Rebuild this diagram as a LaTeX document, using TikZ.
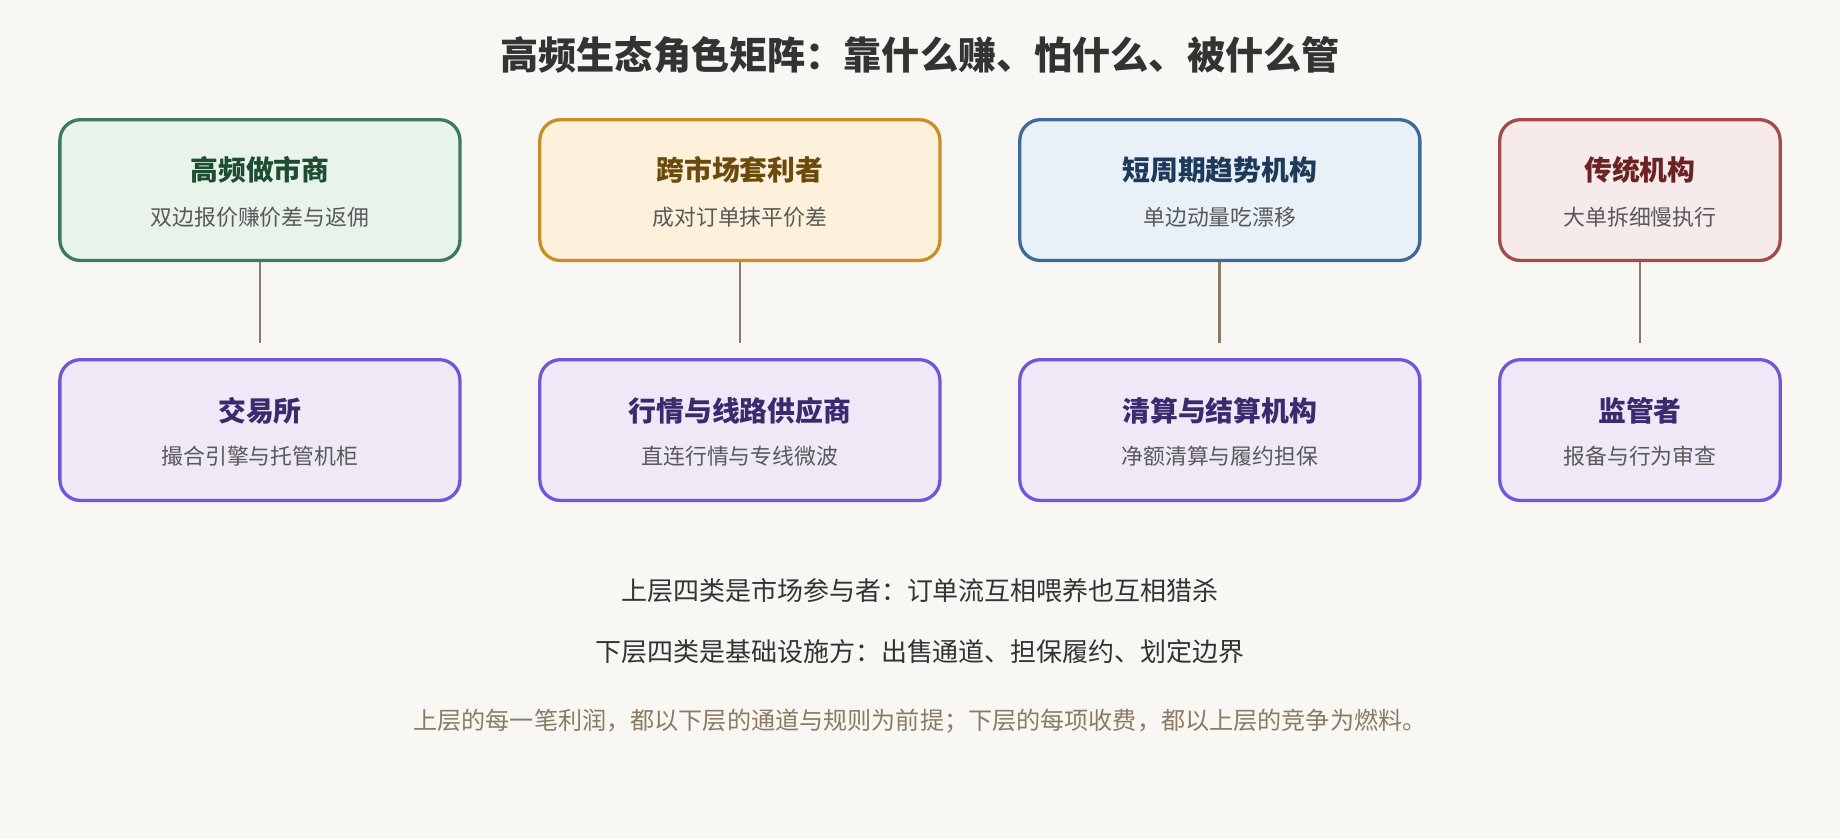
\documentclass[tikz,border=0pt]{standalone}
\usepackage{fontspec}
\setmainfont{Noto Sans CJK SC}
\usetikzlibrary{positioning}
\definecolor{bgc}{HTML}{F8F7F3}
\definecolor{grnd}{HTML}{3D7A5A}\definecolor{grnf}{HTML}{E8F3EA}\definecolor{grnt}{HTML}{1F4D33}
\definecolor{orgd}{HTML}{C98E2A}\definecolor{orgf}{HTML}{FDF1DC}\definecolor{orgt}{HTML}{6B4A0C}
\definecolor{blud}{HTML}{3D6A96}\definecolor{bluf}{HTML}{E8F0F8}\definecolor{blut}{HTML}{1E3A5A}
\definecolor{redd}{HTML}{A44A4A}\definecolor{redf}{HTML}{F6EAEA}\definecolor{redt}{HTML}{6B2222}
\definecolor{purd}{HTML}{7057D8}\definecolor{purf}{HTML}{EFE9F7}\definecolor{purt}{HTML}{3A2A6E}
\definecolor{linkc}{HTML}{8A7B62}
\begin{document}
\begin{tikzpicture}[x=0.02cm,y=-0.02cm,
    box/.style={rectangle, rounded corners=10pt, line width=1.6pt, minimum height=2.4cm},
    wide/.style={minimum width=6.82cm},
    narrow/.style={minimum width=4.78cm},
    head/.style={font=\fontsize{13.5}{15}\selectfont\bfseries},
    sub/.style={font=\fontsize{10.6}{12}\selectfont, text=black!65},
    link/.style={draw=linkc, line width=1.3pt}
]
    \fill[bgc] (0,0) rectangle (1568,715);
    \node[font=\fontsize{18.5}{22}\selectfont\bfseries, text=black!80] (title) at (784,47) {高频生态角色矩阵：靠什么赚、怕什么、被什么管};

    % upper row
    \node[box, wide, draw=grnd, fill=grnf] (mm) at (221.5,162) {};
    \node[box, wide, draw=orgd, fill=orgf] (arb) at (630.5,162) {};
    \node[box, wide, draw=blud, fill=bluf] (trend) at (1039.5,162) {};
    \node[box, narrow, draw=redd, fill=redf] (inst) at (1397.5,162) {};
    % lower row
    \node[box, wide, draw=purd, fill=purf] (exch) at (221.5,366.5) {};
    \node[box, wide, draw=purd, fill=purf] (feed) at (630.5,366.5) {};
    \node[box, wide, draw=purd, fill=purf] (clear) at (1039.5,366.5) {};
    \node[box, narrow, draw=purd, fill=purf] (reg) at (1397.5,366.5) {};

    \node[head, text=grnt] at (221.5,145) {高频做市商};
    \node[sub] at (221.5,185) {双边报价赚价差与返佣};
    \node[head, text=orgt] at (630.5,145) {跨市场套利者};
    \node[sub] at (630.5,185) {成对订单抹平价差};
    \node[head, text=blut] at (1039.5,145) {短周期趋势机构};
    \node[sub] at (1039.5,185) {单边动量吃漂移};
    \node[head, text=redt] at (1397.5,145) {传统机构};
    \node[sub] at (1397.5,185) {大单拆细慢执行};

    \node[head, text=purt] at (221.5,350) {交易所};
    \node[sub] at (221.5,389) {撮合引擎与托管机柜};
    \node[head, text=purt] at (630.5,350) {行情与线路供应商};
    \node[sub] at (630.5,389) {直连行情与专线微波};
    \node[head, text=purt] at (1039.5,350) {清算与结算机构};
    \node[sub] at (1039.5,389) {净额清算与履约担保};
    \node[head, text=purt] at (1397.5,350) {监管者};
    \node[sub] at (1397.5,389) {报备与行为审查};

    % links
    \coordinate (e1) at (221.5,292);
    \coordinate (e2) at (630.5,292);
    \coordinate (e3) at (1039.5,292);
    \coordinate (e4) at (1397.5,292);
    \draw[link] (mm.south) -- (e1);
    \draw[link] (arb.south) -- (e2);
    \draw[link] (trend.south) -- (e3);
    \draw[link] (inst.south) -- (e4);

    \node[font=\fontsize{12.6}{15}\selectfont, text=black!80] (note1) at (784,503) {上层四类是市场参与者：订单流互相喂养也互相猎杀};
    \node[font=\fontsize{12.6}{15}\selectfont, text=black!80] (note2) at (784,555) {下层四类是基础设施方：出售通道、担保履约、划定边界};
    \node[font=\fontsize{11.7}{14}\selectfont, text=linkc] (foot) at (784,615) {上层的每一笔利润，都以下层的通道与规则为前提；下层的每项收费，都以上层的竞争为燃料。};
\end{tikzpicture}
\end{document}
